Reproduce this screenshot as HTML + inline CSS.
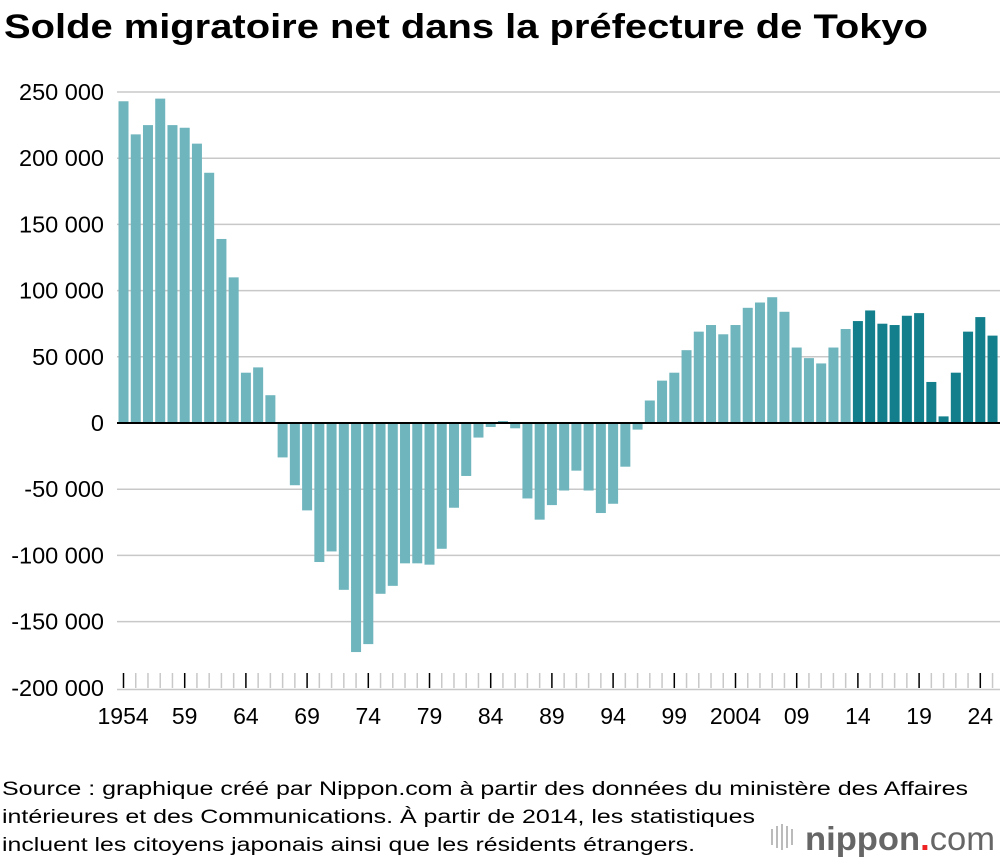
<!DOCTYPE html>
<html><head><meta charset="utf-8"><style>
body{margin:0;background:#fff;width:1000px;height:862px;overflow:hidden;font-family:"Liberation Sans",Arial,sans-serif}
</style></head><body>
<svg width="1000" height="862">
<text x="4" y="38" font-size="34" font-weight="bold" fill="#000" textLength="924" lengthAdjust="spacingAndGlyphs">Solde migratoire net dans la préfecture de Tokyo</text>
<g id="grid"></g><g id="bars"></g><g id="axis"></g>
<g font-size="19" fill="#000">
<text x="2" y="795" textLength="966" lengthAdjust="spacingAndGlyphs">Source : graphique créé par Nippon.com à partir des données du ministère des Affaires</text>
<text x="2" y="823" textLength="753" lengthAdjust="spacingAndGlyphs">intérieures et des Communications. À partir de 2014, les statistiques</text>
<text x="2" y="851" textLength="693" lengthAdjust="spacingAndGlyphs">incluent les citoyens japonais ainsi que les résidents étrangers.</text>
</g>
<g>
<g fill="#bbb"><rect x="771" y="829" width="2" height="16"/><rect x="776" y="826" width="2" height="22"/><rect x="781" y="824" width="2" height="26"/><rect x="786" y="826" width="2" height="22"/><rect x="791" y="829" width="2" height="16"/></g>
<text x="805" y="850" font-size="33" fill="#666" font-weight="bold" textLength="190" lengthAdjust="spacingAndGlyphs">nippon<tspan fill="#e22">.</tspan><tspan font-weight="normal">com</tspan></text>
</g>
</svg>
<script>
const years=[];for(let y=1954;y<=2025;y++)years.push(y);
const values=[243000,218000,225000,245000,225000,223000,211000,189000,139000,110000,38000,42000,21000,-26000,-47000,-66000,-105000,-97000,-126000,-173000,-167000,-129000,-123000,-106000,-106000,-107000,-95000,-64000,-40000,-11000,-3000,1500,-4000,-57000,-73000,-62000,-51000,-36000,-51000,-68000,-61000,-33000,-5000,17000,32000,38000,55000,69000,74000,67000,74000,87000,91000,95000,84000,57000,49000,45000,57000,71000,77000,85000,75000,74000,81000,83000,31000,5000,38000,69000,80000,66000];
const yTicks=[250000,200000,150000,100000,50000,0,-50000,-100000,-150000,-200000];
const xLabels=[[1954,"1954"],[1959,"59"],[1964,"64"],[1969,"69"],[1974,"74"],[1979,"79"],[1984,"84"],[1989,"89"],[1994,"94"],[1999,"99"],[2004,"2004"],[2009,"09"],[2014,"14"],[2019,"19"],[2024,"24"]];
const NS="http://www.w3.org/2000/svg";
const yS=v=>423-v*(331/250000);
const xS=yr=>123.5+(yr-1954)*12.24;
function mk(tag,attrs,parent){const e=document.createElementNS(NS,tag);for(const k in attrs)e.setAttribute(k,attrs[k]);parent.appendChild(e);return e;}
const grid=document.getElementById('grid'),bars=document.getElementById('bars'),axis=document.getElementById('axis');
yTicks.forEach(t=>{
 if(t!==0&&t!==-200000){const l=mk('line',{x1:117,x2:1000,y1:yS(t),y2:yS(t),stroke:'#c8c8c8','stroke-width':1.5},grid);
 
 }
 const tx=mk('text',{x:104,y:yS(t)+8,'text-anchor':'end','font-size':23.5,fill:'#000'},axis);
 tx.textContent=String(Math.abs(t)).replace(/\B(?=(\d{3})+(?!\d))/g,' ').replace(/^/,t<0?'-':'');
 
 
});
years.forEach((yr,i)=>{
 const v=values[i];const y0=yS(0),y1=yS(v);
 const r=mk('rect',{x:xS(yr)-5,width:10,y:Math.min(y0,y1),height:Math.abs(y1-y0),fill:yr>=2014?'#137f8c':'#6fb5bd'},bars);
 
 
 const major=xLabels.some(l=>l[0]===yr);
 const t=mk('line',{x1:xS(yr),x2:xS(yr),y1:673,y2:688,stroke:major?'#000':'#c8c8c8','stroke-width':1.5},axis);
 
 
});
const zl=mk('line',{x1:117,x2:1000,y1:yS(0),y2:yS(0),stroke:'#000','stroke-width':2},axis);


const bl=mk('line',{x1:117,x2:1000,y1:689.5,y2:689.5,stroke:'#c8c8c8','stroke-width':1.5},axis);


xLabels.forEach(([yr,lab])=>{
 const t=mk('text',{x:yr===1954?xS(yr)-26:xS(yr),y:724,'text-anchor':yr===1954?'start':'middle','font-size':23,fill:'#000'},axis);
 t.textContent=lab;
 
 
});
</script>
</body></html>
